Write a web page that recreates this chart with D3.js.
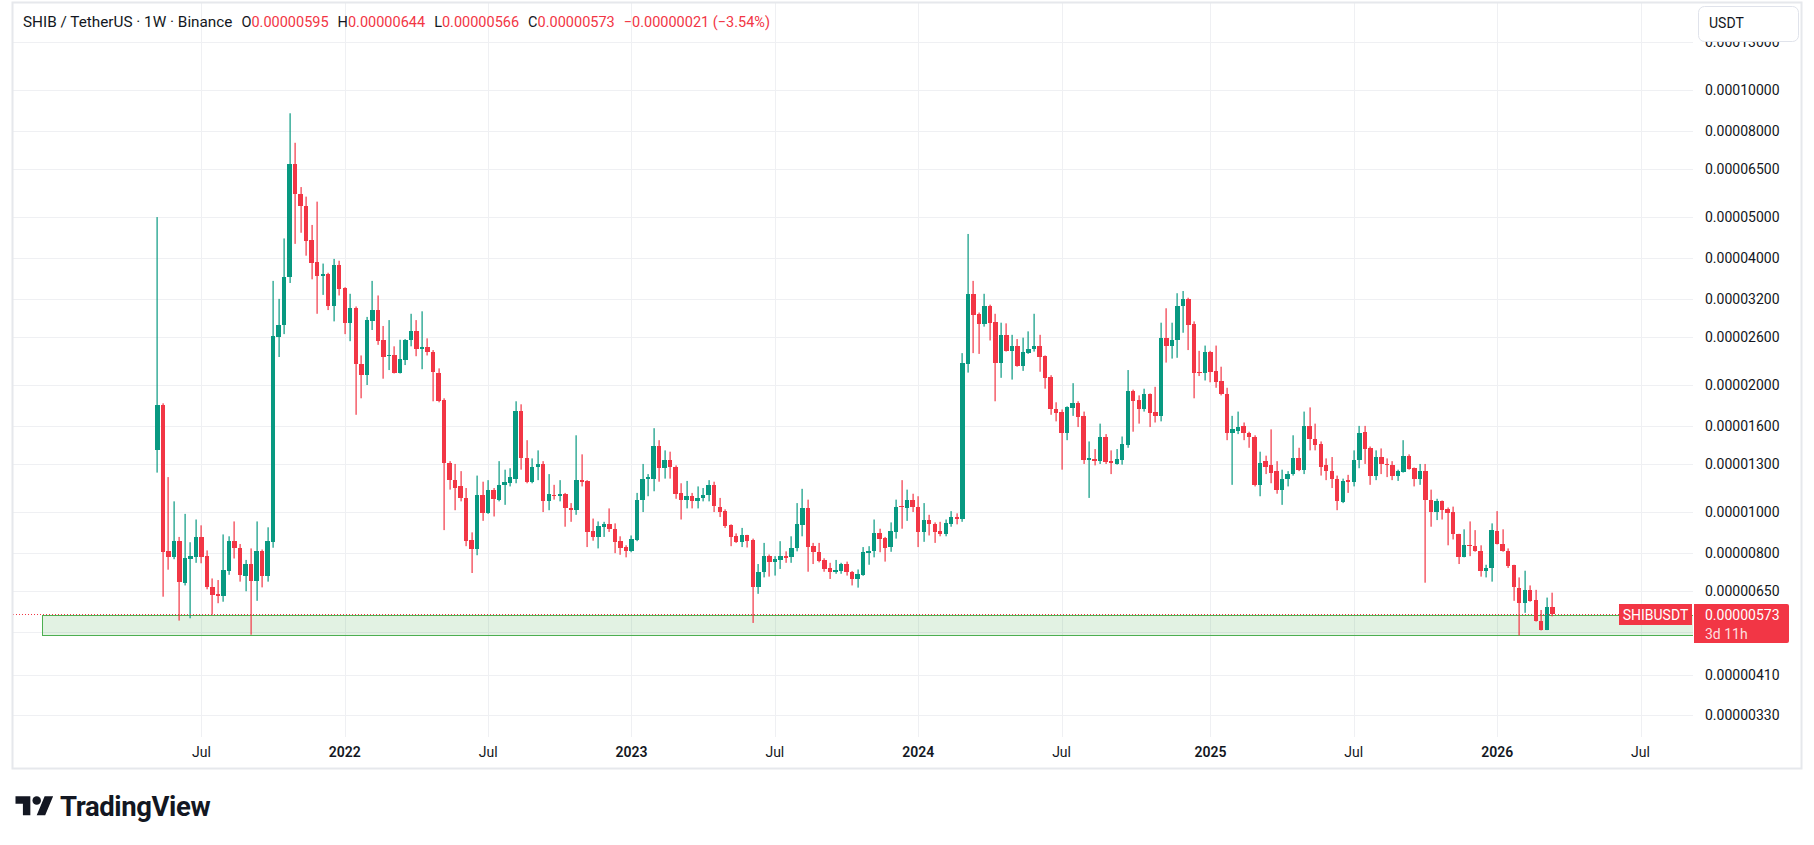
<!DOCTYPE html>
<html>
<head>
<meta charset="utf-8">
<title>SHIB / TetherUS · 1W · Binance</title>
<script src="https://cdn.jsdelivr.net/npm/d3@7"></script>
<style>
    html, body { margin: 0; padding: 0; background: #fff; }
    svg { display: block; font-family: Roboto, 'Noto Sans', sans-serif; }
</style>
</head>
<body>
<div id="chart"></div>
<script>
// Weekly candles, SHIB/USDT on Binance. Prices are in millionths of USDT (x 1e-6).
var firstWeek = '2021-05-10';
var UNIT = 1e-6;

var open = [
    14.0, 17.9, 8.07, 7.84, 8.53, 6.8, 7.76, 7.84, 8.71, 7.86,
    6.63, 6.39, 6.31, 7.26, 8.53, 8.2, 7.06, 7.53, 6.87, 8.07,
    7.06, 8.5, 26.0, 27.7, 36.0, 66.7, 56.8, 53.1, 44.1, 39.2,
    36.2, 36.6, 30.7, 38.4, 33.9, 28.1, 30.5, 22.4, 21.1, 28.4,
    30.1, 25.5, 23.4, 23.5, 21.4, 22.9, 25.5, 26.8, 24.4, 24.6,
    24.0, 21.4, 18.4, 13.1, 11.9, 11.5, 10.8, 8.58, 8.18, 11.0,
    9.96, 11.3, 10.7, 11.6, 11.7, 12.0, 17.4, 13.45, 11.8, 12.8,
    13.0, 10.6, 11.0, 10.9, 11.05, 10.25, 10.1, 11.9, 11.85, 9.0,
    8.73, 9.23, 9.37, 9.1, 8.53, 8.26, 8.1, 8.58, 10.65, 12.0,
    12.0, 14.3, 12.7, 13.3, 12.8, 11.1, 10.7, 10.9, 10.6, 10.8,
    10.95, 11.6, 10.3, 10.05, 9.3, 8.76, 8.5, 8.8, 8.58, 6.65,
    7.19, 7.86, 7.63, 7.7, 7.86, 7.84, 8.22, 9.33, 10.2, 8.3,
    8.05, 7.7, 7.35, 7.19, 7.26, 7.53, 7.22, 6.94, 7.1, 7.99,
    8.1, 8.92, 8.68, 8.26, 8.97, 10.35, 10.25, 10.65, 10.3, 8.97,
    9.57, 9.37, 9.0, 8.85, 9.37, 9.73, 9.65, 22.4, 32.9, 29.5,
    27.9, 30.8, 28.2, 22.6, 26.3, 24.1, 24.8, 22.2, 23.8, 24.3,
    24.7, 23.4, 20.9, 17.5, 17.3, 15.4, 17.6, 18.1, 16.9, 13.3,
    13.35, 13.2, 15.1, 13.2, 13.0, 13.3, 14.45, 19.4, 18.4, 17.5,
    19.0, 17.3, 16.9, 25.9, 24.7, 25.5, 30.7, 32.0, 27.9, 21.5,
    21.3, 24.0, 21.6, 20.4, 19.0, 15.4, 15.6, 16.0, 15.4, 15.1,
    11.6, 13.2, 12.95, 12.5, 11.3, 12.0, 12.3, 13.4, 12.6, 16.0,
    14.9, 14.5, 12.95, 12.5, 12.0, 10.55, 11.9, 11.8, 13.3, 15.5,
    14.15, 12.2, 13.5, 13.0, 12.95, 12.2, 12.45, 13.55, 12.7, 12.0,
    12.5, 10.7, 10.0, 10.6, 10.15, 10.0, 8.85, 7.84, 8.35, 8.31,
    8.1, 7.26, 7.37, 9.03, 8.42, 8.1, 7.48, 6.6, 6.1, 6.54,
    6.19, 5.53, 5.26, 5.95
];
var high = [
    50, 18.1, 12.1, 10.6, 8.73, 9.9, 8.48, 9.6, 9.3, 8.11,
    6.96, 6.9, 8.85, 8.76, 9.5, 8.4, 7.7, 8.2, 9.5, 8.15,
    9.2, 35.3, 32.0, 44.5, 88.1, 75.0, 58.9, 55.9, 47.9, 54.4,
    38.8, 36.9, 39.8, 39.4, 34.1, 32.9, 30.7, 23.5, 29.0, 35.3,
    32.6, 27.6, 28.5, 24.7, 25.6, 25.7, 29.5, 28.5, 29.9, 25.8,
    24.2, 21.9, 18.6, 13.2, 13.0, 12.5, 11.4, 8.95, 12.2, 11.8,
    11.9, 11.4, 13.2, 12.6, 12.7, 18.3, 18.0, 14.8, 13.4, 14.0,
    13.2, 12.3, 11.6, 11.9, 11.1, 10.5, 15.2, 13.7, 11.9, 9.65,
    9.5, 9.48, 10.2, 9.4, 8.76, 8.34, 8.8, 11.1, 13.0, 12.3,
    15.8, 14.8, 14.0, 13.9, 12.9, 11.7, 11.85, 11.1, 11.5, 11.4,
    11.9, 11.8, 10.8, 10.15, 9.35, 8.9, 9.17, 8.83, 8.65, 7.53,
    8.45, 7.93, 7.86, 8.53, 8.07, 8.76, 10.5, 11.35, 10.7, 8.45,
    8.45, 7.77, 7.58, 7.7, 7.58, 7.63, 7.25, 7.31, 8.26, 8.3,
    9.6, 9.13, 8.73, 9.45, 10.7, 11.9, 11.3, 11.05, 10.9, 10.5,
    9.85, 9.45, 9.48, 9.6, 10.05, 9.93, 23.8, 45.6, 35.3, 29.7,
    32.9, 31.0, 29.5, 28.1, 28.0, 26.3, 25.7, 25.9, 26.8, 29.5,
    26.3, 23.5, 21.1, 18.2, 17.5, 17.8, 20.2, 18.3, 17.3, 14.7,
    14.1, 16.2, 15.3, 14.0, 14.1, 15.1, 21.7, 19.5, 18.9, 19.6,
    19.1, 19.8, 28.1, 30.4, 28.1, 33.0, 33.4, 32.2, 28.3, 24.1,
    24.8, 24.1, 24.8, 22.1, 19.7, 16.9, 17.3, 16.3, 15.5, 15.2,
    13.9, 13.6, 15.7, 13.2, 12.6, 12.5, 15.2, 14.2, 17.3, 17.7,
    16.2, 14.7, 13.4, 13.5, 12.2, 12.0, 12.25, 14.0, 16.0, 16.0,
    14.3, 14.0, 14.15, 13.4, 13.2, 12.6, 14.8, 13.7, 12.75, 13.0,
    13.0, 11.3, 10.75, 10.65, 10.25, 10.3, 8.88, 9.1, 9.5, 9.06,
    8.34, 7.5, 9.4, 10.05, 9.1, 8.2, 7.5, 7.0, 7.26, 6.7,
    6.54, 5.86, 6.27, 6.44
];
var low = [
    12.4, 6.3, 7.3, 7.73, 5.53, 6.7, 5.6, 7.58, 7.56, 6.56,
    5.71, 6.08, 6.13, 7.1, 7.76, 6.84, 6.49, 5.12, 6.16, 6.63,
    6.84, 8.23, 23.3, 26.4, 34.9, 43.2, 45.9, 40.5, 35.6, 29.5,
    32.7, 30.1, 28.3, 32.6, 26.4, 25.4, 17.0, 18.6, 20.0, 27.0,
    24.9, 20.7, 21.7, 21.3, 21.3, 22.3, 24.7, 23.4, 21.8, 23.5,
    18.3, 18.2, 9.06, 11.3, 10.1, 10.6, 8.3, 7.17, 7.9, 9.53,
    9.9, 9.76, 10.6, 10.4, 11.5, 11.7, 12.6, 11.7, 11.7, 11.9,
    10.0, 10.1, 10.7, 10.6, 9.23, 9.48, 9.85, 11.5, 8.26, 8.55,
    8.2, 8.73, 8.97, 7.99, 7.92, 7.81, 8.03, 8.53, 10.0, 10.9,
    11.2, 11.8, 12.0, 12.0, 10.75, 9.6, 10.2, 10.2, 10.2, 10.6,
    10.6, 10.0, 9.73, 9.17, 8.3, 8.45, 8.26, 8.24, 5.46, 6.4,
    7.0, 7.03, 7.07, 7.33, 7.58, 7.58, 8.07, 8.76, 7.22, 7.53,
    7.6, 7.22, 6.94, 7.14, 7.14, 7.07, 6.7, 6.62, 7.06, 7.5,
    7.81, 8.03, 7.63, 8.05, 8.65, 9.13, 9.53, 10.0, 8.26, 8.5,
    8.8, 8.45, 8.76, 8.76, 9.23, 9.35, 9.48, 21.4, 23.8, 23.7,
    27.5, 25.5, 18.3, 20.8, 24.0, 20.6, 22.1, 21.6, 23.7, 24.0,
    21.5, 19.6, 17.0, 16.4, 12.6, 14.8, 16.9, 15.9, 13.0, 10.8,
    12.9, 13.0, 13.0, 12.3, 12.95, 12.95, 14.2, 15.5, 16.2, 17.3,
    15.9, 16.3, 16.4, 22.6, 23.1, 23.2, 26.6, 24.2, 18.6, 21.0,
    20.5, 20.3, 19.7, 18.9, 14.8, 11.6, 15.3, 14.8, 14.2, 11.5,
    10.9, 12.3, 11.7, 11.05, 10.4, 11.5, 12.2, 12.5, 12.3, 14.0,
    14.0, 12.2, 11.9, 11.4, 10.1, 10.5, 11.1, 11.5, 12.7, 13.0,
    11.6, 11.9, 12.3, 12.1, 11.9, 11.85, 12.4, 12.6, 11.5, 11.6,
    6.8, 9.23, 9.57, 9.6, 8.34, 8.61, 7.53, 7.81, 7.86, 8.05,
    7.03, 7.0, 6.84, 8.38, 8.05, 7.37, 6.16, 5.1, 5.77, 6.13,
    5.5, 5.24, 5.25, 5.66
];
var close = [
    17.9, 8.05, 7.84, 8.53, 6.84, 7.77, 7.86, 8.71, 7.84, 6.63,
    6.37, 6.31, 7.29, 8.53, 8.2, 7.1, 7.53, 6.87, 8.07, 7.06,
    8.53, 26.1, 27.8, 36.1, 66.7, 56.6, 53.0, 43.9, 39.0, 36.2,
    36.6, 30.7, 38.4, 33.8, 28.1, 30.4, 22.4, 21.1, 28.5, 30.1,
    25.4, 23.3, 23.5, 21.4, 23.0, 25.6, 26.8, 24.4, 24.6, 23.9,
    21.5, 18.3, 13.1, 11.9, 11.4, 10.8, 8.55, 8.18, 11.0, 9.96,
    11.3, 10.75, 11.6, 11.8, 12.1, 17.4, 13.4, 11.8, 12.8, 13.0,
    10.6, 11.05, 10.9, 11.05, 10.2, 10.1, 11.9, 11.8, 8.97, 8.73,
    9.26, 9.37, 9.1, 8.5, 8.24, 8.1, 8.61, 10.7, 12.0, 12.1,
    14.3, 12.7, 13.3, 12.8, 11.05, 10.7, 10.9, 10.6, 10.8, 11.0,
    11.6, 10.35, 10.0, 9.26, 8.73, 8.5, 8.8, 8.55, 6.65, 7.22,
    7.86, 7.63, 7.73, 7.86, 7.8, 8.24, 9.37, 10.2, 8.26, 8.03,
    7.66, 7.33, 7.19, 7.29, 7.53, 7.19, 6.94, 7.14, 8.03, 8.1,
    8.92, 8.65, 8.22, 9.0, 10.3, 10.3, 10.7, 10.3, 8.97, 9.57,
    9.35, 8.97, 8.85, 9.4, 9.73, 9.65, 22.5, 32.9, 29.3, 27.9,
    30.8, 28.1, 22.6, 26.3, 24.1, 24.8, 22.2, 23.9, 24.4, 24.7,
    23.3, 20.8, 17.5, 17.2, 15.4, 17.7, 18.1, 16.8, 13.3, 13.4,
    13.2, 15.1, 13.15, 13.1, 13.35, 14.5, 19.4, 18.3, 17.5, 19.0,
    17.2, 16.9, 25.9, 24.7, 25.6, 30.8, 32.0, 27.8, 21.4, 21.3,
    24.0, 21.5, 20.3, 19.0, 15.4, 15.7, 15.9, 15.4, 15.1, 11.6,
    13.1, 12.8, 12.4, 11.3, 12.0, 12.3, 13.4, 12.6, 16.0, 14.9,
    14.4, 12.8, 12.5, 12.0, 10.6, 11.85, 11.8, 13.3, 15.4, 14.1,
    12.2, 13.5, 13.0, 12.95, 12.2, 12.5, 13.55, 12.65, 12.0, 12.5,
    10.65, 10.0, 10.6, 10.1, 9.96, 8.85, 7.84, 8.34, 8.31, 8.07,
    7.26, 7.38, 9.06, 8.41, 8.07, 7.45, 6.63, 6.1, 6.54, 6.16,
    5.53, 5.26, 5.94, 5.73
];

// price axis ticks (same units) and time axis ticks
var priceTicks = [130, 100, 80, 65, 50, 40, 32, 26, 20, 16, 13, 10, 8, 6.5, 5.2, 4.1, 3.3];
var timeTickDates = ['2021-07-05', '2022-01-03', '2022-07-04', '2023-01-02', '2023-07-03',
    '2024-01-01', '2024-07-01', '2025-01-06', '2025-07-07', '2026-01-05', '2026-07-06'];
var timeTickLabels = ['Jul', '2022', 'Jul', '2023', 'Jul', '2024', 'Jul', '2025', 'Jul', '2026', 'Jul'];

// drawn support zone (rectangle tool)
var zoneStart = '2020-12-14';
var zoneTop = 5.70;
var zoneBottom = 5.12;
var timeLeft = '3d 11h';

// visible ranges
var priceMin = 2.93, priceMax = 160.8;
var dateMin = '2021-05-10', dateMax = '2026-03-16';

var W = 1814, H = 845;
var plot = { left: 13, top: 3, right: 1693, bottom: 737 };
var frameRight = 1801, frameBottom = 768;

var UP = '#089981', DOWN = '#f23645', TEXT = '#131722', GRID = '#eff0f3';

var parse = d3.utcParse('%Y-%m-%d');
var fmt = function (v) { return (v * UNIT).toFixed(8); };

var candles = close.map(function (c, i) {
    return {
        date: d3.utcDay.offset(parse(firstWeek), 7 * i),
        o: open[i], h: high[i], l: low[i], c: c
    };
});

var x = d3.scaleUtc()
    .domain([parse(dateMin), parse(dateMax)])
    .range([157.3, 1552.3]);

var y = d3.scaleLog()
    .domain([priceMin, priceMax])
    .range([plot.bottom, plot.top]);

var svg = d3.select('#chart')
    .append('svg')
    .attr('width', W)
    .attr('height', H)
    .attr('viewBox', '0 0 ' + W + ' ' + H);

svg.append('rect').attr('width', W).attr('height', H).attr('fill', '#fff');

svg.append('defs')
    .append('clipPath')
    .attr('id', 'plot-clip')
    .append('rect')
    .attr('x', plot.left)
    .attr('y', plot.top)
    .attr('width', plot.right - plot.left)
    .attr('height', plot.bottom - plot.top);

var plotG = svg.append('g').attr('clip-path', 'url(#plot-clip)');

// grid
plotG.selectAll('.hgrid')
    .data(priceTicks)
    .enter()
    .append('line')
    .attr('x1', plot.left)
    .attr('x2', plot.right)
    .attr('y1', function (d) { return Math.round(y(d)) + 0.5; })
    .attr('y2', function (d) { return Math.round(y(d)) + 0.5; })
    .attr('stroke', GRID)
    .attr('stroke-width', 1);

plotG.selectAll('.vgrid')
    .data(timeTickDates)
    .enter()
    .append('line')
    .attr('x1', function (d) { return Math.round(x(parse(d))) + 0.5; })
    .attr('x2', function (d) { return Math.round(x(parse(d))) + 0.5; })
    .attr('y1', plot.top)
    .attr('y2', plot.bottom)
    .attr('stroke', GRID)
    .attr('stroke-width', 1);

// support zone
plotG.append('rect')
    .attr('x', Math.round(x(parse(zoneStart))) + 0.5)
    .attr('y', Math.round(y(zoneTop)) + 0.5)
    .attr('width', plot.right + 5 - x(parse(zoneStart)))
    .attr('height', Math.round(y(zoneBottom)) - Math.round(y(zoneTop)))
    .attr('fill', 'rgba(76, 175, 80, 0.16)')
    .attr('stroke', '#4caf50')
    .attr('stroke-width', 1);

// candles
var bars = plotG.selectAll('.candle')
    .data(candles)
    .enter()
    .append('g')
    .attr('class', 'candle')
    .attr('fill', function (d) { return d.c >= d.o ? UP : DOWN; });

bars.append('rect')
    .attr('x', function (d) { return Math.round(x(d.date)) - 0.5; })
    .attr('y', function (d) { return y(d.h); })
    .attr('width', 1.2)
    .attr('height', function (d) { return Math.max(1, y(d.l) - y(d.h)); });

bars.append('rect')
    .attr('x', function (d) { return x(d.date) - 2.2; })
    .attr('y', function (d) { return y(Math.max(d.o, d.c)); })
    .attr('width', 4.4)
    .attr('height', function (d) { return Math.max(1, Math.abs(y(d.o) - y(d.c))); })
    .attr('shape-rendering', 'crispEdges');

// last price line
var last = candles[candles.length - 1];
var prev = candles[candles.length - 2];
var lastY = Math.round(y(last.c)) + 0.5;

plotG.append('line')
    .attr('x1', plot.left)
    .attr('x2', plot.right)
    .attr('y1', lastY)
    .attr('y2', lastY)
    .attr('stroke', DOWN)
    .attr('stroke-width', 1)
    .attr('stroke-dasharray', '1 2');

// price axis labels (the one under the last price tag is hidden, as on the original)
svg.selectAll('.ptick')
    .data(priceTicks.filter(function (d) {
        var dy = y(d) - lastY;
        return dy < -20 || dy > 30;
    }))
    .enter()
    .append('text')
    .attr('x', 1705)
    .attr('y', function (d) { return y(d) + 5; })
    .attr('font-size', 14)
    .attr('fill', TEXT)
    .text(fmt);

// time axis labels
svg.selectAll('.ttick')
    .data(timeTickDates)
    .enter()
    .append('text')
    .attr('x', function (d) { return x(parse(d)); })
    .attr('y', 757)
    .attr('text-anchor', 'middle')
    .attr('font-size', 14)
    .attr('font-weight', function (d, i) { return timeTickLabels[i] === 'Jul' ? 400 : 600; })
    .attr('fill', TEXT)
    .text(function (d, i) { return timeTickLabels[i]; });

// currency button
svg.append('rect')
    .attr('x', 1698.5)
    .attr('y', 6.5)
    .attr('width', 100)
    .attr('height', 35)
    .attr('rx', 6)
    .attr('fill', '#fff')
    .attr('stroke', '#e0e3eb');

svg.append('text')
    .attr('x', 1709)
    .attr('y', 28)
    .attr('font-size', 14)
    .attr('fill', TEXT)
    .text('USDT');

// last price tags
svg.append('rect')
    .attr('x', 1619)
    .attr('y', lastY - 10.5)
    .attr('width', 73)
    .attr('height', 21)
    .attr('fill', DOWN);

svg.append('text')
    .attr('x', 1655.5)
    .attr('y', lastY + 5)
    .attr('text-anchor', 'middle')
    .attr('font-size', 14)
    .attr('fill', '#fff')
    .text('SHIBUSDT');

svg.append('path')
    .attr('d', 'M1694,' + (lastY - 10.5) + 'h93a2,2 0 0 1 2,2v35a2,2 0 0 1 -2,2h-93z')
    .attr('fill', DOWN);

svg.append('text')
    .attr('x', 1705)
    .attr('y', lastY + 5)
    .attr('font-size', 14)
    .attr('fill', '#fff')
    .text(fmt(last.c));

svg.append('text')
    .attr('x', 1705)
    .attr('y', lastY + 24)
    .attr('font-size', 14)
    .attr('fill', '#fff')
    .attr('fill-opacity', 0.85)
    .text(timeLeft);

// legend / header
var change = last.c - prev.c;
var pct = change / prev.c * 100;
var minus = function (s) { return s.replace('-', '\u2212'); };

var header = svg.append('text')
    .attr('x', 23)
    .attr('y', 27)
    .attr('font-size', 14.5)
    .attr('fill', TEXT);

header.append('tspan').attr('font-size', 15.3).text('SHIB / TetherUS \u00b7 1W \u00b7 Binance');
[['O', last.o], ['H', last.h], ['L', last.l], ['C', last.c]].forEach(function (p, i) {
    header.append('tspan').attr('dx', i === 0 ? 9 : 9).text(p[0]);
    header.append('tspan').attr('fill', DOWN).text(fmt(p[1]));
});
header.append('tspan')
    .attr('dx', 9)
    .attr('fill', DOWN)
    .text(minus(fmt(change)) + ' (' + minus(pct.toFixed(2)) + '%)');

// frame
svg.append('rect')
    .attr('x', plot.left - 0.5)
    .attr('y', plot.top - 0.5)
    .attr('width', frameRight - plot.left + 1)
    .attr('height', frameBottom - plot.top + 1)
    .attr('fill', 'none')
    .attr('stroke', '#e6e8ec')
    .attr('stroke-width', 2);

// TradingView logo
var logo = svg.append('g').attr('transform', 'translate(15.5,792) scale(1.06)');
logo.append('path')
    .attr('d', 'M14 22H7V11H0V4h14v18zM28 22h-8l7.5-18h8L28 22z')
    .attr('fill', TEXT);
logo.append('circle')
    .attr('cx', 20)
    .attr('cy', 8)
    .attr('r', 4)
    .attr('fill', TEXT);

svg.append('text')
    .attr('x', 60)
    .attr('y', 816)
    .attr('font-size', 27.5)
    .attr('font-weight', 700)
    .attr('letter-spacing', -0.4)
    .attr('fill', TEXT)
    .text('TradingView');
</script>
</body>
</html>
